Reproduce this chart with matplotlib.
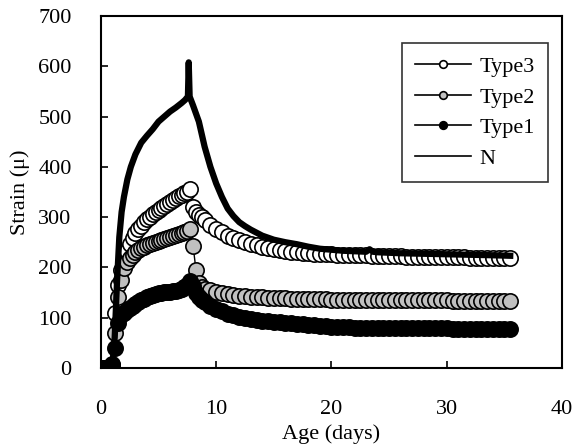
import numpy as np
import matplotlib
matplotlib.use('Agg')
import matplotlib.pyplot as plt

plt.rcParams['font.family'] = 'Liberation Serif'
plt.rcParams['font.size'] = 16

# sampling grid for the three Type series (days)
age = np.r_[np.arange(0, 9, 0.25), np.arange(9, 36, 0.5)]

type3 = [0, 0, 0, 0, 5, 110, 165, 195, 215, 232, 247, 258, 268, 276, 283, 290,
         296, 301, 306, 311, 315, 319, 323, 327, 331, 335, 338, 341, 344, 347,
         350, 356, 320, 310, 305, 300,
         295, 285, 277, 270, 263, 258, 254, 250, 247, 244, 241, 238, 236, 234,
         232, 231, 230, 229, 228, 227, 227, 226, 226, 225, 225, 225, 224, 224,
         224, 223, 223, 222, 222, 222, 222, 221, 221, 221, 221, 221, 220, 220,
         220, 220, 220, 220, 219, 219, 219, 219, 219, 219, 219, 219]

type2 = [0, 0, 0, 0, 3, 70, 140, 175, 198, 210, 218, 225, 230, 234, 238, 241,
         244, 247, 249, 251, 253, 255, 257, 259, 261, 263, 265, 267, 269, 271,
         273, 276, 242, 195, 168, 160,
         157, 154, 151, 148, 146, 144, 143, 142, 141, 140, 140, 139, 139, 138,
         138, 137, 137, 137, 136, 136, 136, 136, 135, 135, 135, 135, 135, 135,
         135, 135, 135, 134, 134, 134, 134, 134, 134, 134, 134, 134, 134, 134,
         134, 133, 133, 133, 133, 133, 133, 133, 133, 133, 133, 133]

type1 = [0, 0, 0, 0, 8, 40, 90, 105, 110, 115, 119, 123, 127, 131, 134, 137,
         140, 142, 144, 146, 148, 149, 150, 151, 151, 152, 153, 155, 157, 160,
         164, 172, 162, 148, 140, 134,
         130, 124, 118, 113, 108, 105, 102, 99, 97, 95, 94, 93, 92, 91,
         90, 89, 88, 87, 86, 85, 84, 83, 82, 82, 81, 81, 80, 80,
         80, 80, 79, 79, 79, 79, 79, 79, 79, 79, 79, 79, 79, 79,
         79, 78, 78, 78, 78, 78, 78, 78, 78, 78, 78, 78]

n_age = [0, 0.5, 1.0, 1.2, 1.4, 1.6, 1.8, 2.0, 2.3, 2.6, 3.0, 3.5, 4.0, 4.5,
         5.0, 5.5, 6.0, 6.5, 7.0, 7.3, 7.55, 7.62, 7.7, 8.0, 8.5, 9.0, 9.5,
         10.0, 10.5, 11.0, 11.5, 12.0, 12.5, 13.0, 14.0, 15.0, 16.0, 17.0,
         18.0, 19.0, 20.0, 21.0, 22.0, 23.0, 23.3, 23.6, 24.0, 25.0, 26.0,
         28.0, 30.0, 32.0, 34.0, 35.5]
n_strain = [0, 0, 5, 60, 170, 260, 310, 340, 375, 400, 425, 448, 462, 475,
            490, 500, 510, 518, 527, 533, 540, 608, 540, 522, 490, 440, 400,
            367, 340, 317, 302, 290, 282, 275, 263, 255, 250, 246,
            241, 237, 235, 233, 232, 231, 236, 231, 230, 229, 228,
            227, 226, 225, 224, 223]

fig = plt.figure(figsize=(5.73, 4.48), dpi=100)
ax = fig.add_axes([0.176, 0.179, 0.805, 0.785])

ax.plot(age, type3, '-o', color='black', lw=1, ms=11, mfc='white', mec='black', mew=1.2, label='Type3')
ax.plot(age, type2, '-o', color='black', lw=1, ms=11, mfc='#c0c0c0', mec='black', mew=1.2, label='Type2')
ax.plot(age, type1, '-o', color='black', lw=1, ms=11, mfc='black', mec='black', mew=1.2, label='Type1')
ax.plot(n_age, n_strain, '-', color='black', lw=4.5, label='N')

ax.set_xlim(0, 40)
ax.set_ylim(0, 700)
ax.set_xticks(np.arange(0, 41, 10))
ax.set_yticks(np.arange(0, 701, 100))
ax.tick_params(direction='in', length=5, width=1.2)
ax.tick_params(axis='x', pad=23)
ax.tick_params(axis='y', pad=21)
for s in ax.spines.values():
    s.set_linewidth(1.5)

ax.set_xlabel('Age (days)', labelpad=4)
ax.set_ylabel('Strain (\u03bc)', labelpad=6)

leg = ax.legend(loc='upper right', bbox_to_anchor=(0.970, 0.923), borderaxespad=0,
                frameon=True, fancybox=False, edgecolor='black', markerscale=0.5,
                handlelength=2.5, handletextpad=0.4, labelspacing=0.45, borderpad=0.6)
leg.get_frame().set_linewidth(1.2)
for h in leg.get_lines():
    h.set_linewidth(1.2)

plt.savefig('out.png', dpi=100)
